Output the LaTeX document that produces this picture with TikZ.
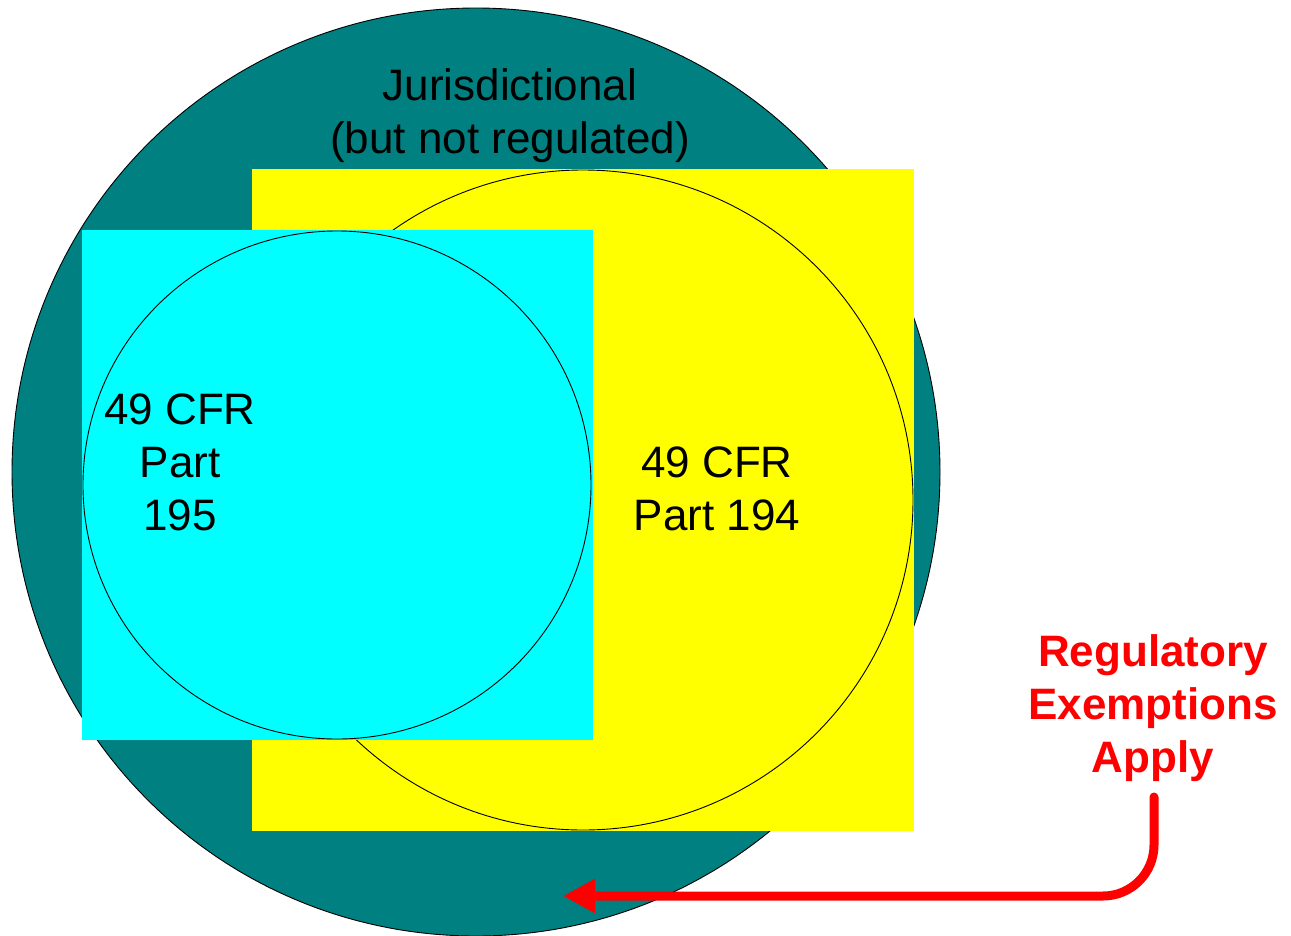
\documentclass[tikz,border=0pt]{standalone}
\usepackage{fontspec}
\setmainfont{Liberation Sans}
\usetikzlibrary{arrows.meta}
\definecolor{tealbg}{HTML}{008080}
\definecolor{yellowbg}{HTML}{FFFF00}
\definecolor{cyanbg}{HTML}{00FFFF}
\definecolor{redarrow}{HTML}{FF0000}
\begin{document}
\begin{tikzpicture}[x=1pt,y=-1pt,
  outline/.style={draw=black, line width=0.9pt},
  lbl/.style={align=center, inner sep=0pt, font=\fontsize{44}{53}\selectfont},
  redlbl/.style={align=center, inner sep=0pt, text=redarrow, font=\fontsize{44}{53}\selectfont\bfseries}]
\useasboundingbox (0,0) rectangle (1291,935);
\draw[fill=tealbg, outline] (476,472) circle[radius=464pt];
\fill[yellowbg] (252,169) rectangle (914,831);
\draw[fill=yellowbg, outline] (583,500) circle[radius=330pt];
\fill[cyanbg] (82,230) rectangle (593,740);
\draw[fill=cyanbg, outline] (337,485) circle[radius=254pt];
\node[lbl] (juris) at (510,116) {Jurisdictional\\(but not regulated)};
\node[lbl] (p195) at (180,462) {49 CFR\\Part\\195};
\node[lbl] (p194) at (717,489) {49 CFR\\Part 194};
\node[redlbl] (exempt) at (1153,708) {Regulatory\\Exemptions\\Apply};
\coordinate (start) at (1154,797);
\coordinate (tip) at (563,896);
\draw[redarrow, line width=9pt, line cap=round, rounded corners=51pt, -{Triangle[length=32pt,width=32pt]}] (start) |- (tip);
\end{tikzpicture}
\end{document}
